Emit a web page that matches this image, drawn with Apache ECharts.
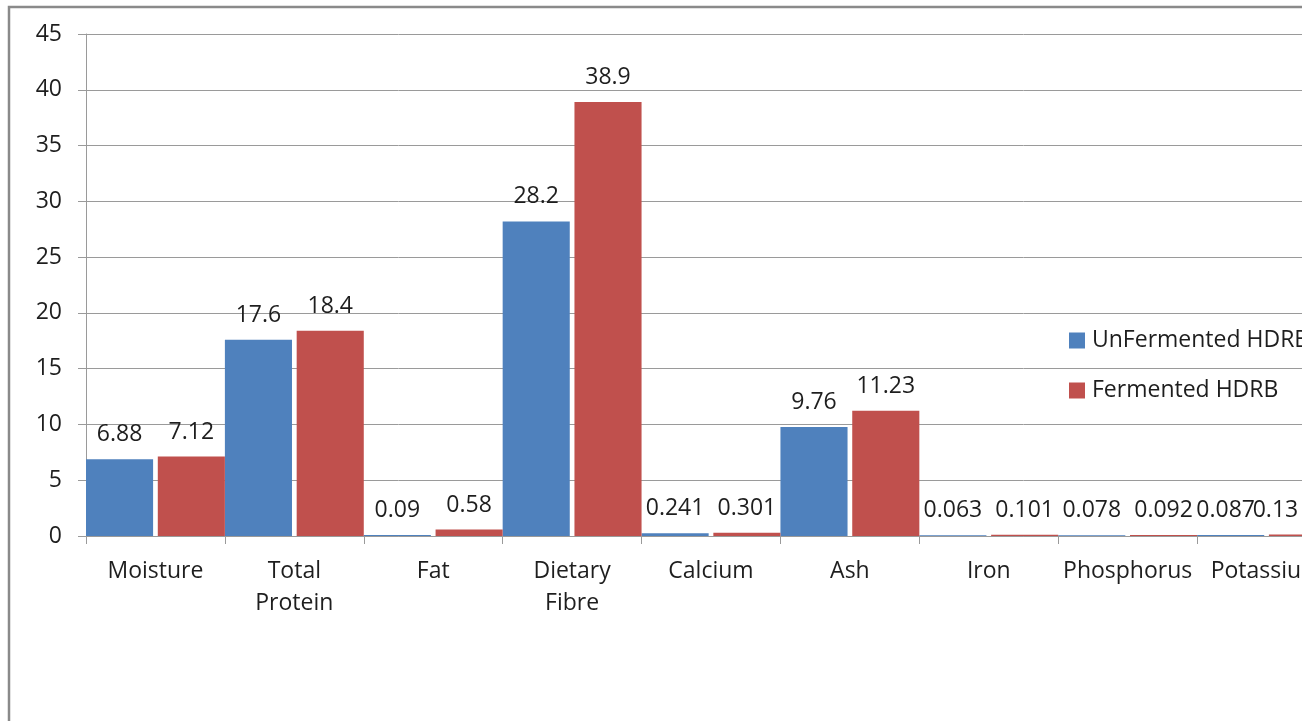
<!DOCTYPE html>
<html>
<head>
<meta charset="utf-8">
<script src="https://cdn.jsdelivr.net/npm/echarts@6/dist/echarts.min.js"></script>
<style>
  html, body { margin: 0; padding: 0; background: #fff; overflow: hidden; }
  #clip { position: absolute; left: 0; top: 0; width: 1302px; height: 721px; overflow: hidden; }
  #chart { position: absolute; left: 0; top: 0; width: 1500px; height: 721px; }
</style>
</head>
<body>
<div id="clip"><div id="chart"></div></div>
<script>
// Proximate composition of hybrid dehulled rice bran (HDRB)
const categories = ['Moisture', 'Total\nProtein', 'Fat', 'Dietary\nFibre', 'Calcium', 'Ash', 'Iron', 'Phosphorus', 'Potassium'];
const unfermented = [6.88, 17.6, 0.09, 28.2, 0.241, 9.76, 0.063, 0.078, 0.087];
const fermented = [7.12, 18.4, 0.58, 38.9, 0.301, 11.23, 0.101, 0.092, 0.13];
const seriesNames = ['UnFermented HDRB', 'Fermented HDRB'];
const yTicks = { min: 0, max: 45, interval: 5 };

const FONT = '"Open Sans"';
const TEXT = '#1e1e1e';
const GRID = '#9a9a9a';

const chart = echarts.init(document.getElementById('chart'), null, { renderer: 'canvas' });

const labelCfg = {
  show: true,
  position: 'top',
  distance: 13,
  color: TEXT,
  fontFamily: FONT,
  fontSize: 23
};

// labels of the last category are nudged inward so they stay inside the frame
function withEdgeLabel(values, dx) {
  return values.map((v, i) =>
    i === values.length - 1 ? { value: v, label: { offset: [dx, 0] } } : v
  );
}

chart.setOption({
  backgroundColor: '#fff',
  animation: false,
  textStyle: { fontFamily: FONT },
  graphic: [{
    type: 'rect',
    shape: { x: 9, y: 7, width: 2000, height: 2000 },
    style: { fill: 'none', stroke: '#8a8a8a', lineWidth: 2.5 },
    silent: true
  }],
  grid: { left: 86, top: 34, width: 1250, height: 502, containLabel: false },
  legend: {
    orient: 'vertical',
    left: 1069,
    top: 329,
    padding: 0,
    itemWidth: 16,
    itemHeight: 16,
    itemGap: 27,
    icon: 'rect',
    textStyle: { color: TEXT, fontFamily: FONT, fontSize: 23, padding: [0, 0, 0, 2] },
    data: seriesNames
  },
  xAxis: {
    type: 'category',
    data: categories,
    axisLine: { lineStyle: { color: GRID, width: 1 } },
    axisTick: { show: true, length: 8, interval: 0, lineStyle: { color: GRID } },
    axisLabel: { color: TEXT, fontFamily: FONT, fontSize: 23, lineHeight: 32, margin: 19, interval: 0 }
  },
  yAxis: {
    type: 'value',
    min: yTicks.min,
    max: yTicks.max,
    interval: yTicks.interval,
    axisLine: { show: true, lineStyle: { color: GRID, width: 1 } },
    axisTick: { show: true, length: 8, lineStyle: { color: GRID } },
    splitLine: { show: true, lineStyle: { color: GRID, width: 1 } },
    axisLabel: { color: TEXT, fontFamily: FONT, fontSize: 23, margin: 24 }
  },
  series: [
    {
      name: seriesNames[0],
      type: 'bar',
      data: withEdgeLabel(unfermented, -5),
      barGap: '7%',
      barCategoryGap: '0%',
      itemStyle: { color: '#4F81BD' },
      label: labelCfg
    },
    {
      name: seriesNames[1],
      type: 'bar',
      data: withEdgeLabel(fermented, -27),
      barGap: '7%',
      barCategoryGap: '0%',
      itemStyle: { color: '#C0504D' },
      label: labelCfg
    }
  ]
});
</script>
</body>
</html>
